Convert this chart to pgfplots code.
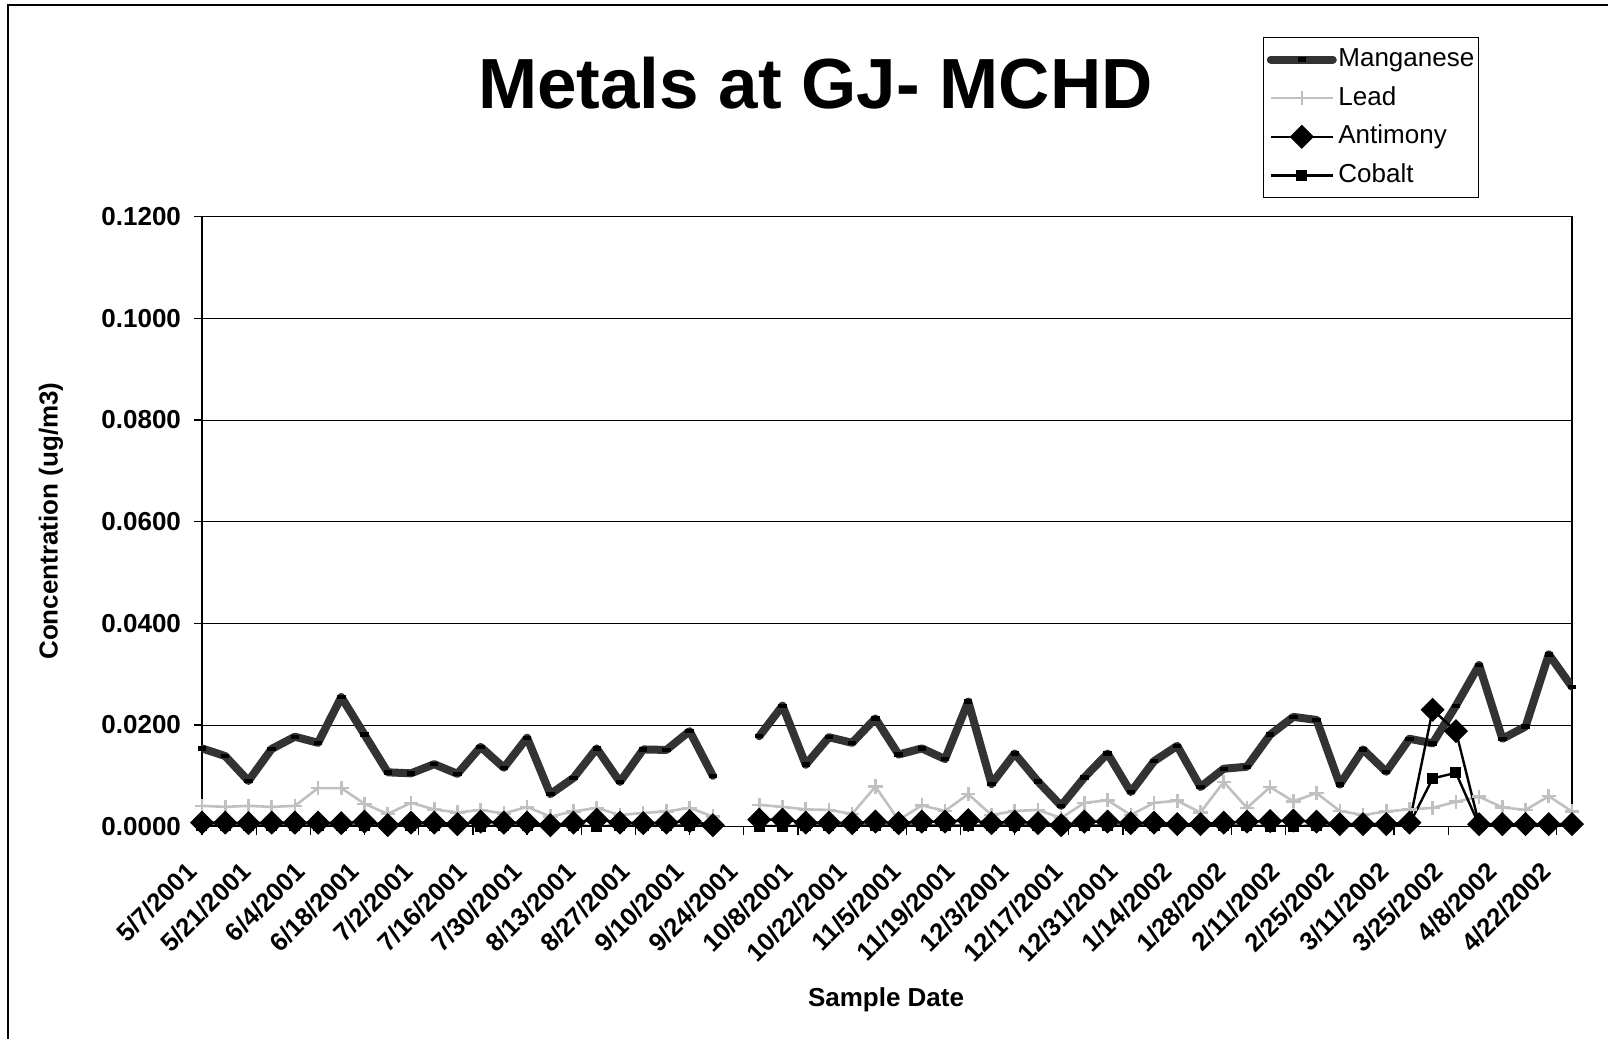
\documentclass[border=0pt]{standalone}
\usepackage{fontspec}
\setmainfont{Liberation Sans}
\usepackage{pgfplots}
\pgfplotsset{compat=1.18}
\usepackage{pgfplotstable}

\pgfplotstableread{
x mn pb sb co
0 0.0154 0.0041 0.0008 0.0002
6 0.0139 0.0039 0.0008 0.0002
12 0.0090 0.0041 0.0007 0.0002
18 0.0153 0.0039 0.0008 0.0002
24 0.0177 0.0041 0.0008 0.0002
30 0.0165 0.0076 0.0008 0.0002
36 0.0255 0.0076 0.0007 0.0002
42 0.0181 0.0045 0.0010 0.0002
48 0.0107 0.0025 0.0003 0.0002
54 0.0105 0.0047 0.0008 0.0002
60 0.0123 0.0034 0.0008 0.0002
66 0.0104 0.0028 0.0005 0.0002
72 0.0157 0.0033 0.0010 0.0001
78 0.0116 0.0026 0.0008 0.0002
84 0.0175 0.0039 0.0008 0.0002
90 0.0064 0.0020 0.0003 0.0002
96 0.0096 0.0030 0.0008 0.0002
102 0.0154 0.0037 0.0014 0.0001
108 0.0088 0.0023 0.0008 0.0002
114 0.0152 0.0027 0.0007 0.0002
120 0.0151 0.0030 0.0008 0.0002
126 0.0188 0.0037 0.0011 0.0002
132 0.0100 0.0020 0.0003 0.0002
138 nan nan nan nan
144 0.0178 0.0043 0.0014 0.0001
150 0.0238 0.0039 0.0014 0.0001
156 0.0122 0.0034 0.0008 0.0002
162 0.0176 0.0033 0.0008 0.0002
168 0.0165 0.0025 0.0007 0.0002
174 0.0213 0.0079 0.0010 0.0002
180 0.0142 0.0013 0.0007 0.0002
186 0.0154 0.0042 0.0010 0.0002
192 0.0133 0.0031 0.0010 0.0002
198 0.0246 0.0064 0.0013 0.0002
204 0.0084 0.0023 0.0007 0.0002
210 0.0144 0.0031 0.0010 0.0002
216 0.0089 0.0033 0.0007 0.0002
222 0.0041 0.0017 0.0003 0.0002
228 0.0097 0.0047 0.0010 0.0002
234 0.0144 0.0052 0.0010 0.0002
240 0.0068 0.0023 0.0007 0.0002
246 0.0129 0.0047 0.0008 0.0002
252 0.0159 0.0051 0.0005 0.0002
258 0.0078 0.0028 0.0005 0.0002
264 0.0114 0.0088 0.0008 0.0002
270 0.0118 0.0037 0.0010 0.0002
276 0.0181 0.0078 0.0011 0.0001
282 0.0216 0.0050 0.0012 0.0001
288 0.0210 0.0066 0.0010 0.0002
294 0.0083 0.0031 0.0005 0.0002
300 0.0152 0.0023 0.0005 0.0002
306 0.0108 0.0030 0.0005 0.0002
312 0.0173 0.0034 0.0008 0.0005
318 0.0164 0.0037 0.0230 0.0095
324 0.0238 0.0049 0.0188 0.0106
330 0.0318 0.0059 0.0005 0.0003
336 0.0173 0.0038 0.0005 0.0002
342 0.0197 0.0033 0.0005 0.0002
348 0.0339 0.0060 0.0005 0.0002
354 0.0275 0.0030 0.0005 0.0002
}\data

\definecolor{mngray}{HTML}{333333}
\definecolor{pbgray}{HTML}{C0C0C0}

\begin{document}
\begin{tikzpicture}
\useasboundingbox (0,0) rectangle (804pt,519.5pt);
\draw[line width=0.8pt] (4pt,0pt) -- (4pt,517pt) -- (804pt,517pt);
\begin{axis}[
  at={(101pt,106.15pt)}, anchor=south west,
  scale only axis, width=685pt, height=305pt,
  xmin=0, xmax=354, ymin=0, ymax=0.12,
  xtick={0,14,...,350},
  xticklabels={5/7/2001,5/21/2001,6/4/2001,6/18/2001,7/2/2001,7/16/2001,7/30/2001,8/13/2001,8/27/2001,9/10/2001,9/24/2001,10/8/2001,10/22/2001,11/5/2001,11/19/2001,12/3/2001,12/17/2001,12/31/2001,1/14/2002,1/28/2002,2/11/2002,2/25/2002,3/11/2002,3/25/2002,4/8/2002,4/22/2002},
  ytick={0,0.02,0.04,0.06,0.08,0.1,0.12},
  scaled y ticks=false,
  /pgf/number format/assume math mode=true,
  yticklabel style={xshift=-3pt, font=\fontsize{13}{15}\selectfont\bfseries, /pgf/number format/.cd, fixed, fixed zerofill, precision=4},
  xticklabel style={xshift=-5pt, yshift=-16pt, rotate=45, anchor=east, inner sep=0pt, font=\fontsize{12.8}{14}\selectfont\bfseries},
  tick align=outside, tick pos=left,
  major tick length=4pt,
  every tick/.style={black, line width=0.6pt},
  axis line style={black, line width=0.7pt},
  ymajorgrids, grid style={black, line width=0.5pt},
  unbounded coords=jump,
  title={Metals at GJ- MCHD},
  title style={at={(axis description cs:0.4477,1.200)}, anchor=center, font=\fontsize{35.5}{42}\selectfont\bfseries},
  ylabel={Concentration (ug/m3)},
  ylabel style={at={(axis description cs:-0.1102,0.501)}, anchor=center, font=\fontsize{13}{15}\selectfont\bfseries},
  xlabel={Sample Date},
  xlabel style={at={(axis description cs:0.4993,-0.2836)}, anchor=center, font=\fontsize{13}{15}\selectfont\bfseries},
  legend cell align=left,
  legend image code/.code={\draw[#1, mark repeat=2, mark phase=2] plot coordinates {(0pt,0pt) (15.5pt,0pt) (31pt,0pt)};},
  legend style={at={(axis description cs:0.7746,1.2946)}, anchor=north west, draw=black, line width=0.6pt,
    font=\fontsize{13}{15}\selectfont, row sep=4.3pt, inner xsep=1.5pt, inner ysep=3.5pt,
    nodes={inner xsep=0.8pt, inner ysep=1.5pt, text height=9.5pt, text depth=2.5pt}},
]
\addplot[mngray, line width=4pt, line join=round, line cap=round, mark=-, mark size=2.1pt, mark options={black, line width=2.2pt, line cap=butt}] table[x=x, y=mn] {\data};
\addlegendentry{Manganese}
\addplot[pbgray, line width=1.3pt, line join=round, mark=+, mark size=3.6pt, mark options={pbgray, line width=1.3pt}] table[x=x, y=pb] {\data};
\addlegendentry{Lead}
\addplot[black, line width=1.2pt, mark=square*, mark size=4pt, mark options={black, rotate=45, line width=0.5pt}] table[x=x, y=sb] {\data};
\addlegendentry{Antimony}
\addplot[black, line width=1.2pt, mark=square*, mark size=2.5pt, mark options={black, line width=0.5pt}] table[x=x, y=co] {\data};
\addlegendentry{Cobalt}
\end{axis}
\end{tikzpicture}
\end{document}
